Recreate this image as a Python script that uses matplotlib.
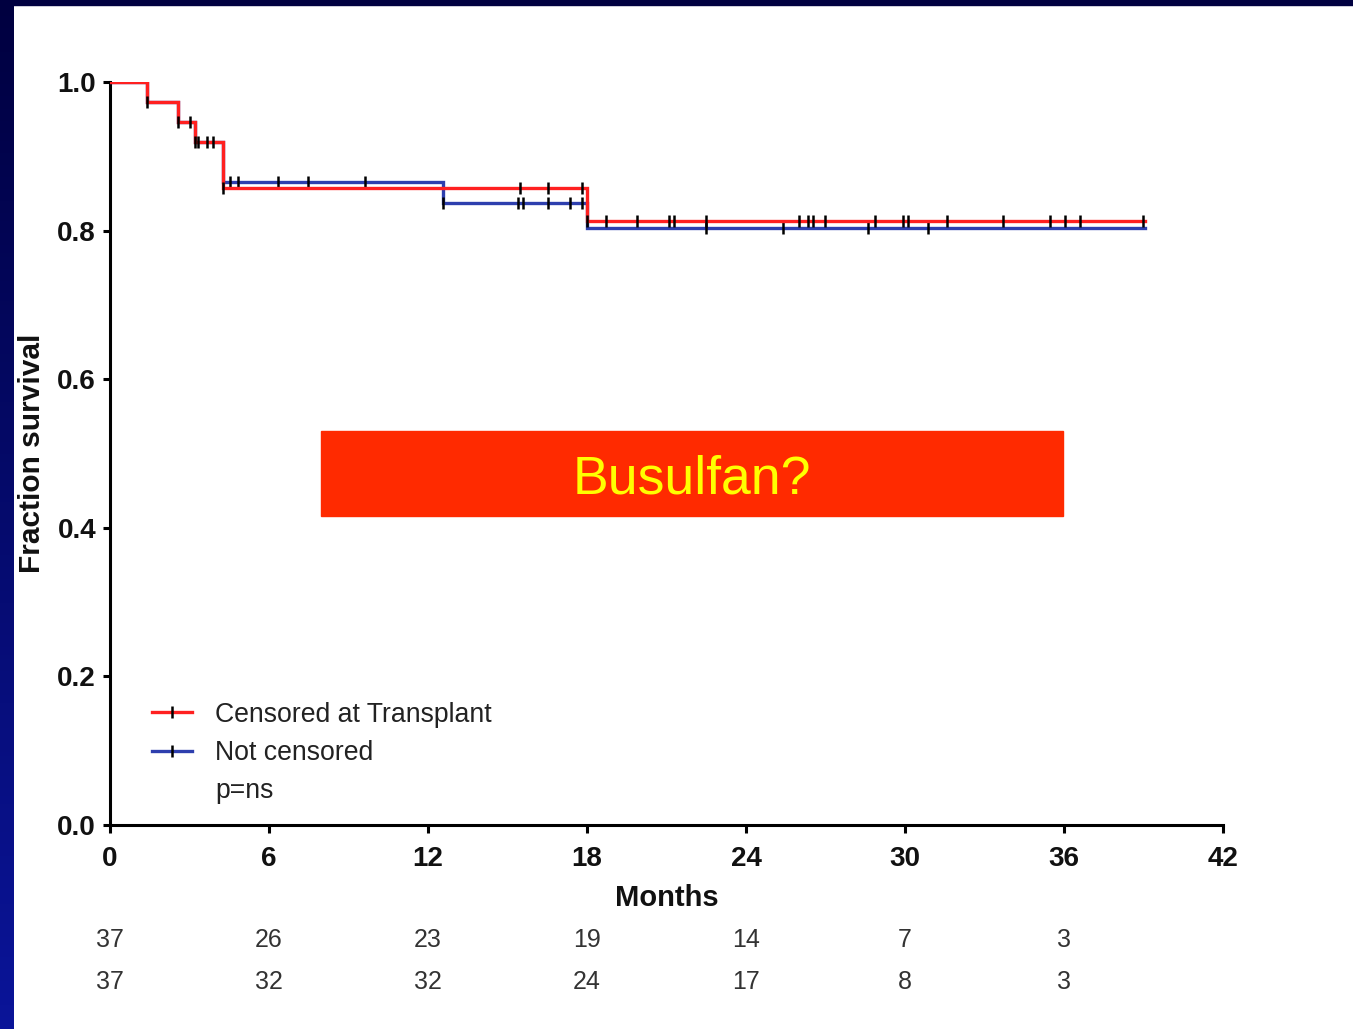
import numpy as np
import matplotlib
matplotlib.use("Agg")
import matplotlib.pyplot as plt
from matplotlib.lines import Line2D
from matplotlib.patches import Rectangle

plt.rcParams['font.family'] = ['Liberation Sans', 'DejaVu Sans']

# Kaplan-Meier curves: event times (months) and survival after each event
red_event_t = [1.4, 2.57, 3.2, 4.26, 18.0]
red_surv = [1.0, 0.973, 0.946, 0.919, 0.857, 0.813]
blue_event_t = [1.4, 2.57, 3.2, 4.26, 12.57, 18.0]
blue_surv = [1.0, 0.973, 0.946, 0.919, 0.865, 0.837, 0.803]
follow_up_end = 39.06

# censoring times (months)
red_censor_t = [1.4, 2.57, 3.02, 3.2, 3.32, 3.66, 3.89, 4.26, 15.47, 16.53,
                17.81, 18.0, 18.72, 19.89, 21.09, 21.28, 22.49, 26.0, 26.34,
                26.53, 26.98, 28.87, 29.92, 30.11, 31.58, 33.70, 35.47, 36.04,
                36.6, 38.98]
blue_censor_t = [4.53, 4.83, 6.34, 7.47, 9.62, 12.57, 15.4, 15.58, 16.53,
                 17.36, 17.81, 22.49, 25.4, 28.6, 30.87]

# number at risk
risk_months = [0, 6, 12, 18, 24, 30, 36]
risk_red = [37, 26, 23, 19, 14, 7, 3]
risk_blue = [37, 32, 32, 24, 17, 8, 3]

labels = ["Censored at Transplant", "Not censored", "p=ns"]
x_ticks = [0, 6, 12, 18, 24, 30, 36, 42]
y_ticks = [0.0, 0.2, 0.4, 0.6, 0.8, 1.0]

RED = "#ff2020"
BLUE = "#2e3fae"

W, H = 1353, 1029
fig = plt.figure(figsize=(W / 100, H / 100), dpi=100)
fig.patch.set_facecolor("white")

# slide frame: dark strip on top, gradient strip on the left
fig.patches.append(Rectangle((0, 1 - 5 / H), 1, 5 / H, transform=fig.transFigure,
                             color="#000040", zorder=0))
side = fig.add_axes([0, 0, 13 / W, 1])
grad = np.linspace(0, 1, 256)[:, None]
top_c = np.array([0.0, 0.0, 0.25])
bot_c = np.array([0.04, 0.08, 0.60])
img = top_c[None, None, :] * (1 - grad[:, :, None]) + bot_c[None, None, :] * grad[:, :, None]
side.imshow(img, aspect="auto", extent=[0, 1, 0, 1], origin="upper")
side.set_axis_off()

ax = fig.add_axes([110 / W, 1 - 825 / H, 1113 / W, 743 / H])


def km_xy(event_t, surv, end):
    x = [0.0] + list(event_t) + [end]
    y = list(surv) + [surv[-1]]
    return x, y


def surv_at(event_t, surv, t):
    idx = np.searchsorted(np.asarray(event_t), np.asarray(t), side="right")
    return np.asarray(surv)[idx]


bx, by = km_xy(blue_event_t, blue_surv, follow_up_end)
rx, ry = km_xy(red_event_t, red_surv, follow_up_end)

ax.step(bx, by, where="post", color=BLUE, lw=2.4, zorder=3, solid_joinstyle="miter")
ax.plot(blue_censor_t, surv_at(blue_event_t, blue_surv, blue_censor_t), ls="none",
        marker="|", ms=8, mew=1.8, color="black", zorder=4)
ax.step(rx, ry, where="post", color=RED, lw=2.4, zorder=5, solid_joinstyle="miter")
ax.plot(red_censor_t, surv_at(red_event_t, red_surv, red_censor_t), ls="none",
        marker="|", ms=9, mew=1.8, color="black", zorder=6)

ax.set_xlim(0, 42)
ax.set_ylim(0, 1)
ax.set_xticks(x_ticks)
ax.set_yticks(y_ticks)
ax.set_yticklabels([f"{v:.1f}" for v in y_ticks])
for s in ["top", "right"]:
    ax.spines[s].set_visible(False)
for s in ["left", "bottom"]:
    ax.spines[s].set_linewidth(2.2)
    ax.spines[s].set_clip_on(False)
ax.tick_params(axis="both", width=2.2, color="black", labelsize=20, direction="out")
ax.tick_params(axis="x", length=6, pad=9)
ax.tick_params(axis="y", length=5, pad=5)
for lab in ax.get_xticklabels() + ax.get_yticklabels():
    lab.set_fontweight("bold")
    lab.set_color("#111111")

ax.set_xlabel("Months", fontsize=21, fontweight="bold", labelpad=9, color="#111111")
ax.set_ylabel("Fraction survival", fontsize=21.5, fontweight="bold", labelpad=8,
              color="#111111")

# legend
handles = [
    Line2D([], [], color=RED, lw=2.4, marker="|", ms=9, mew=1.8, mec="black"),
    Line2D([], [], color=BLUE, lw=2.4, marker="|", ms=9, mew=1.8, mec="black"),
    Line2D([], [], ls="none"),
]
leg = ax.legend(handles, labels, loc="upper left", bbox_to_anchor=(0.038, 0.166),
                frameon=False, fontsize=19.2, handlelength=1.5, handletextpad=0.86,
                labelspacing=0.46, borderpad=0, borderaxespad=0, numpoints=1)
for t in leg.get_texts():
    t.set_color("#222222")

# number-at-risk rows
for m, a, b in zip(risk_months, risk_red, risk_blue):
    ax.text(m, -0.155, str(a), ha="center", va="center", fontsize=18,
            color="#333333", transform=ax.get_xaxis_transform(), clip_on=False)
    ax.text(m, -0.211, str(b), ha="center", va="center", fontsize=18,
            color="#333333", transform=ax.get_xaxis_transform(), clip_on=False)

# highlighted caption box
fig.patches.append(Rectangle((321 / W, 1 - 516 / H), (1063 - 321) / W, 85 / H,
                             transform=fig.transFigure, color="#ff2a00", zorder=10))
fig.text(692 / W, 1 - 479 / H, "Busulfan?", ha="center", va="center", fontsize=38.5,
         color="#ffff00", zorder=11)

fig.savefig("out.png", dpi=100)
